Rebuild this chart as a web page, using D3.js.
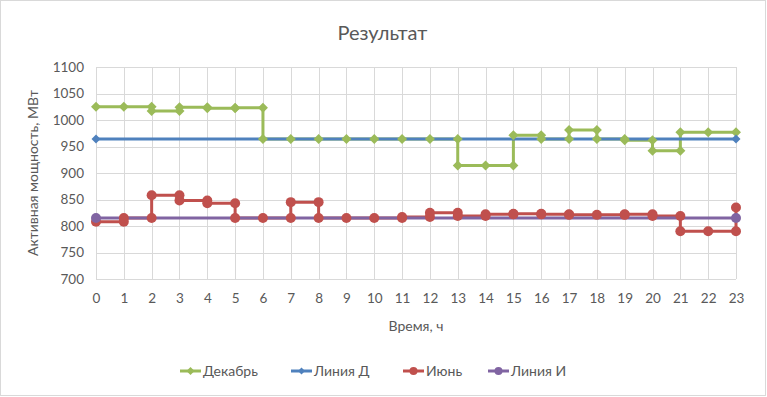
<!DOCTYPE html>
<html lang="ru">
<head>
    <meta charset="UTF-8">
    <script src="https://d3js.org/d3.v7.min.js"></script>
    <style>
        body { margin: 0; background: #fff; }
        svg { display: block; font-family: Lato, "Noto Sans", sans-serif; }
    </style>
</head>
<body>
    <div id="chart"></div>
    <script>
        // hourly values (step chart: value held over [h, h+1])
        const hours = [0,1,2,3,4,5,6,7,8,9,10,11,12,13,14,15,16,17,18,19,20,21,22,23];
        const dekabr = [1025,1025,1017,1024,1022,1023,964,964,964,964,964,964,964,914,914,971,964,981,964,962,942,977,977,977];
        const iyun = [808,815,858,848,843,815,815,845,815,815,815,817,825,819,822,823,822,821,821,822,819,790,790,835];
        const lineX = [0, 23];
        const liniyaD = [964, 964];
        const liniyaI = [815, 815];
        const yTicks = [700,750,800,850,900,950,1000,1050,1100];

        const width = 767, height = 397;
        const margin = { top: 67, right: 31, bottom: 118, left: 96 };

        // turn hourly values into step points
        function steps(vals) {
            const pts = [[hours[0], vals[0]]];
            for (let i = 1; i < hours.length; i++) {
                pts.push([hours[i], vals[i - 1]]);
                if (vals[i] !== vals[i - 1]) pts.push([hours[i], vals[i]]);
            }
            return pts;
        }

        const series = [
            { name: "Декабрь", color: "#9bbb59", marker: "diamond", size: 5, pts: steps(dekabr) },
            { name: "Линия Д", color: "#4f81bd", marker: "diamond", size: 4.5, pts: lineX.map((x, i) => [x, liniyaD[i]]) },
            { name: "Июнь", color: "#c0504d", marker: "circle", size: 5, pts: steps(iyun) },
            { name: "Линия И", color: "#8064a2", marker: "circle", size: 5, pts: lineX.map((x, i) => [x, liniyaI[i]]) }
        ];

        const x = d3.scaleLinear().domain([0, 23]).range([margin.left, width - margin.right]);
        const y = d3.scaleLinear().domain([700, 1100]).range([height - margin.bottom, margin.top]);

        const svg = d3.select("#chart").append("svg")
            .attr("width", width)
            .attr("height", height);

        svg.append("rect")
            .attr("x", 0.5).attr("y", 0.5)
            .attr("width", width - 2).attr("height", height - 2)
            .attr("fill", "#fff").attr("stroke", "#d9d9d9");

        svg.append("text")
            .attr("x", width / 2 - 1).attr("y", 40)
            .attr("text-anchor", "middle")
            .attr("font-size", 20).attr("fill", "#595959")
            .text("Результат");

        // grid
        svg.append("g")
            .selectAll("line")
            .data(yTicks)
            .enter().append("line")
            .attr("x1", x(0)).attr("x2", x(23))
            .attr("y1", d => Math.round(y(d)) + 0.5).attr("y2", d => Math.round(y(d)) + 0.5)
            .attr("stroke", "#d9d9d9");
        svg.append("g")
            .selectAll("line")
            .data(hours)
            .enter().append("line")
            .attr("x1", d => Math.round(x(d)) + 0.5).attr("x2", d => Math.round(x(d)) + 0.5)
            .attr("y1", y(1100)).attr("y2", y(700))
            .attr("stroke", "#d9d9d9");

        // axes
        const yAxis = svg.append("g")
            .attr("transform", `translate(${margin.left - 8},0)`)
            .call(d3.axisLeft(y).tickValues(yTicks).tickFormat(d3.format("d")).tickSize(0).tickPadding(4));
        const xAxis = svg.append("g")
            .attr("transform", `translate(0,${y(700) + 8})`)
            .call(d3.axisBottom(x).tickValues(hours).tickFormat(d3.format("d")).tickSize(0).tickPadding(6));
        [yAxis, xAxis].forEach(g => {
            g.select(".domain").remove();
            g.selectAll("text").attr("font-size", 13.5).attr("fill", "#595959")
                .attr("font-family", "Lato, 'Noto Sans', sans-serif");
        });

        svg.append("text")
            .attr("transform", `translate(38,${(y(700) + y(1100)) / 2}) rotate(-90)`)
            .attr("text-anchor", "middle")
            .attr("font-size", 14).attr("fill", "#595959")
            .text("Активная мощность, МВт");

        svg.append("text")
            .attr("x", (x(0) + x(23)) / 2).attr("y", 331)
            .attr("text-anchor", "middle")
            .attr("font-size", 14).attr("fill", "#595959")
            .text("Время, ч");

        const line = d3.line().x(d => x(d[0])).y(d => y(d[1]));

        // lines first, then markers (as the spreadsheet draws them)
        svg.append("g")
            .selectAll("path")
            .data(series)
            .enter().append("path")
            .attr("d", d => line(d.pts))
            .attr("fill", "none")
            .attr("stroke", d => d.color)
            .attr("stroke-width", 3)
            .attr("stroke-linejoin", "round");

        function drawMarker(g, s, cx, cy) {
            if (s.marker === "diamond") {
                const r = s.size;
                g.append("path")
                    .attr("d", `M${cx},${cy - r}L${cx + r},${cy}L${cx},${cy + r}L${cx - r},${cy}Z`)
                    .attr("fill", s.color);
            } else {
                g.append("circle")
                    .attr("cx", cx).attr("cy", cy).attr("r", s.size)
                    .attr("fill", s.color);
            }
        }

        const markers = svg.append("g");
        series.forEach(s => {
            s.pts.forEach(p => drawMarker(markers, s, x(p[0]), y(p[1])));
        });

        // legend
        const legendX = [180, 291, 403, 488];
        const legendY = 371;
        const legend = svg.append("g");
        series.forEach((s, i) => {
            const lx = legendX[i];
            legend.append("line")
                .attr("x1", lx).attr("x2", lx + 21)
                .attr("y1", legendY).attr("y2", legendY)
                .attr("stroke", s.color).attr("stroke-width", 3);
            drawMarker(legend, { ...s, size: s.size - 1 }, lx + 10.5, legendY);
            legend.append("text")
                .attr("x", lx + 23).attr("y", legendY + 5)
                .attr("font-size", 14).attr("fill", "#595959")
                .text(s.name);
        });
    </script>
</body>
</html>
